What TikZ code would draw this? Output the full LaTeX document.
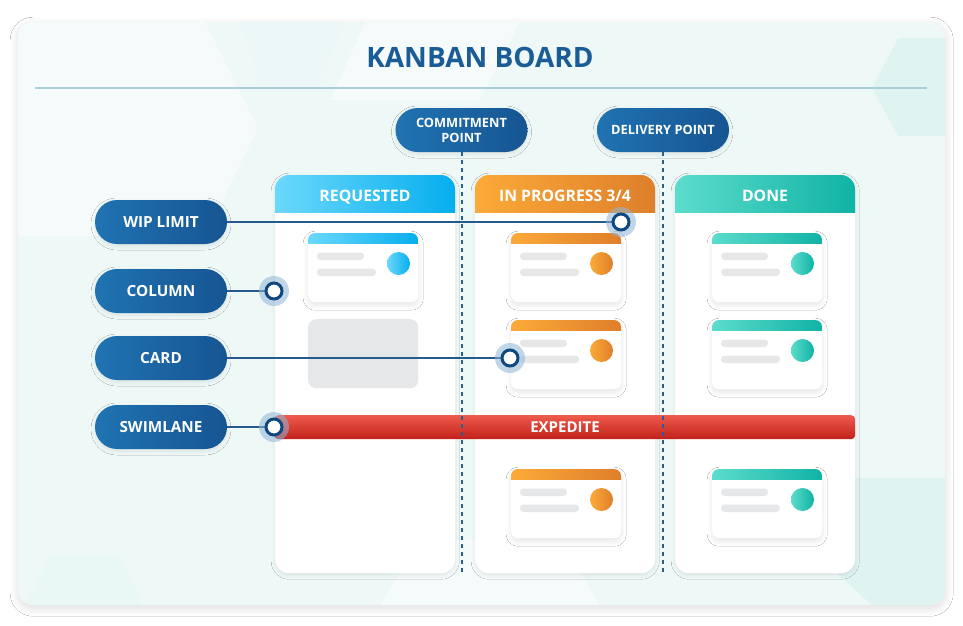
\documentclass[tikz,border=0pt]{standalone}
\usepackage{fontspec}
\setmainfont{Open Sans}
\usetikzlibrary{shadows.blur}
\definecolor{bgmint}{HTML}{EEF8F7}
\definecolor{hexa}{HTML}{F4FBFA}
\definecolor{hexb}{HTML}{DFF3F1}
\definecolor{titleblue}{HTML}{1B5C96}
\definecolor{rulec}{HTML}{A9CFDA}
\definecolor{pillL}{HTML}{2073B2}
\definecolor{pillR}{HTML}{165592}
\definecolor{dashc}{HTML}{2B5F8E}
\definecolor{reqL}{HTML}{6BD8FB}
\definecolor{reqR}{HTML}{06AEEE}
\definecolor{prgL}{HTML}{FBAA38}
\definecolor{prgR}{HTML}{DF7F2B}
\definecolor{donL}{HTML}{5CDCCC}
\definecolor{donR}{HTML}{10B3A5}
\definecolor{barg}{HTML}{E6E7E9}
\definecolor{redT}{HTML}{EE5B4D}
\definecolor{redB}{HTML}{C2201A}
\definecolor{ringc}{HTML}{0E487F}
\definecolor{haloc}{HTML}{8FB6D6}
\tikzset{
  softshadow/.style={blur shadow={shadow xshift=0pt,shadow yshift=-2pt,shadow blur radius=4pt,shadow blur steps=8,shadow opacity=9}},
  pill/.style={rounded corners=22pt, minimum width=132pt, minimum height=44pt, left color=pillL, right color=pillR,
     text=white, font=\bfseries\fontsize{15.3}{17}\selectfont, align=center, softshadow, inner sep=0pt},
  smallpill/.style={pill, font=\bfseries\fontsize{12.8}{15}\selectfont},
  colbody/.style={rectangle, rounded corners=14pt, fill=white, minimum width=180pt, minimum height=398pt, inner sep=0pt, softshadow},
  headtxt/.style={text=white, font=\bfseries\fontsize{15.8}{17}\selectfont, inner sep=0pt, anchor=base},
  cardbody/.style={rectangle, rounded corners=7pt, fill=white, minimum width=110pt, minimum height=69pt, inner sep=0pt,
     blur shadow={shadow xshift=0pt,shadow yshift=-3pt,shadow blur radius=5pt,shadow blur steps=8,shadow opacity=10}},
  ghost/.style={rectangle, rounded corners=8pt, fill=barg, minimum width=110pt, minimum height=69pt, inner sep=0pt},
  conn/.style={draw=ringc!90, line width=1.4pt},
  dashline/.style={draw=dashc, line width=1.6pt, dash pattern=on 4pt off 4pt},
  ring/.style={circle, fill=white, draw=ringc, line width=3pt, minimum size=16pt, inner sep=0pt},
}
\newcommand\kcolumn[5]{%
  \node[colbody, anchor=north west] (#4) at (#1,175) {};
  \begin{scope}
    \clip[rounded corners=14pt] (#1,175) rectangle ++(180,398);
    \shade[left color=#2,right color=#3] (#1,175) rectangle ++(180,37);
  \end{scope}
  \node[headtxt] (#4h) at (#1+90,201) {#5};}
\newcommand\kcard[5]{%
  \node[cardbody, anchor=north west] (#5) at (#1,#2) {};
  \begin{scope}
    \clip[rounded corners=7pt] (#1,#2) rectangle ++(110,69);
    \shade[left color=#3,right color=#4] (#1,#2) rectangle ++(110,10.5);
  \end{scope}
  \fill[barg, rounded corners=3.5pt] (#1+9,#2+19.5) rectangle ++(47,7.5);
  \fill[barg, rounded corners=3.5pt] (#1+9,#2+35.5) rectangle ++(59,7.5);
  \shade[left color=#3,right color=#4] (#1+90.5,#2+30.5) circle (11.5pt);}
\newcommand\kmarker[1]{%
  \fill[haloc, opacity=0.55] (#1) circle (15pt);
  \node[ring] at (#1) {};}
\begin{document}
\begin{tikzpicture}[x=1pt,y=-1pt]
\useasboundingbox (0,0) rectangle (963,625);
\fill[white] (0,0) rectangle (963,625);
% board panel
\node[rectangle, rounded corners=15pt, fill=bgmint, minimum width=927pt, minimum height=583pt, anchor=north west, inner sep=0pt,
  blur shadow={shadow xshift=0pt,shadow yshift=-3pt,shadow blur radius=8pt,shadow blur steps=10,shadow opacity=14}] (board) at (18,22) {};
\begin{scope}
  \clip[rounded corners=15pt] (18,22) rectangle (945,605);
  \fill[hexa] (18,22) -- (205,22) -- (258,128) -- (205,236) -- (18,236) -- cycle;
  \fill[hexa] (365,22) -- (520,22) -- (480,100) -- (330,100) -- cycle;
  \fill[hexb!60] (240,22) -- (345,22) -- (318,88) -- (262,88) -- cycle;
  \fill[hexb] (898,38) -- (945,38) -- (945,136) -- (898,136) -- (872,88) -- cycle;
  \fill[hexb] (820,478) -- (945,478) -- (945,605) -- (872,605) -- (800,540) -- cycle;
  \fill[hexb!70] (50,555) -- (120,555) -- (142,605) -- (25,605) -- cycle;
  \fill[hexa] (420,540) -- (560,540) -- (600,605) -- (380,605) -- cycle;
\end{scope}
% title
\node[text=titleblue, font=\bfseries\fontsize{28}{30}\selectfont] (title) at (480,57) {KANBAN BOARD};
\draw[rulec, line width=1.8pt] (35,88) -- (927,88);
% columns
\kcolumn{275}{reqL}{reqR}{colreq}{REQUESTED}
\kcolumn{475}{prgL}{prgR}{colprg}{IN PROGRESS 3/4}
\kcolumn{675}{donL}{donR}{coldon}{DONE}
% cards
\kcard{308}{233}{reqL}{reqR}{rc1}
\node[ghost, anchor=north west] (rc2) at (308,319) {};
\kcard{511}{233}{prgL}{prgR}{pc1}
\kcard{511}{320}{prgL}{prgR}{pc2}
\kcard{511}{469}{prgL}{prgR}{pc3}
\kcard{712}{233}{donL}{donR}{dc1}
\kcard{712}{320}{donL}{donR}{dc2}
\kcard{712}{469}{donL}{donR}{dc3}
% expedite swimlane
\node[rectangle, rounded corners=4pt, top color=redT, bottom color=redB, minimum width=581pt, minimum height=24pt,
  anchor=north west, inner sep=0pt] (exp) at (274,415) {};
\node[text=white, font=\bfseries\fontsize{15}{16}\selectfont] (expt) at (565,427) {EXPEDITE};
% commitment / delivery points
\node[smallpill] (commit) at (461.5,130) {COMMITMENT\\POINT};
\node[smallpill] (deliv) at (663,130) {DELIVERY POINT};
\coordinate (cbot) at (462,573);
\coordinate (dbot) at (663,573);
\draw[dashline] (commit.south -| cbot) -- (cbot);
\draw[dashline] (deliv.south -| dbot) -- (dbot);
% left labels
\node[pill] (wip) at (161,222) {WIP LIMIT};
\node[pill] (column) at (161,291) {COLUMN};
\node[pill] (card) at (161,358) {CARD};
\node[pill] (swim) at (161,427) {SWIMLANE};
\coordinate (mwip) at (621,222);
\coordinate (mcol) at (274,291);
\coordinate (mcard) at (510,358);
\coordinate (mswim) at (274,427);
\draw[conn] (wip.east) -- (mwip);
\draw[conn] (column.east) -- (mcol);
\draw[conn] (card.east) -- (mcard);
\draw[conn] (swim.east) -- (mswim);
\kmarker{mwip}
\kmarker{mcol}
\kmarker{mcard}
\kmarker{mswim}
\end{tikzpicture}
\end{document}
